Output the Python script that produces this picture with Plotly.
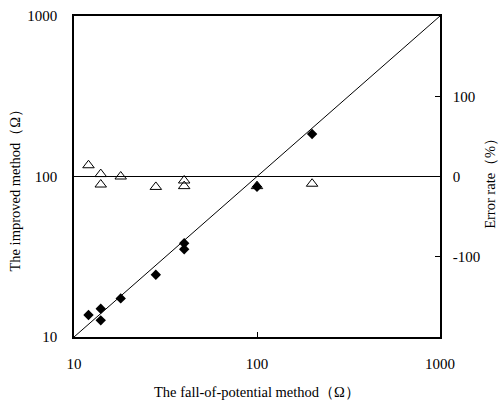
import plotly.graph_objects as go

# Data
fall_of_potential = [12, 14, 14, 18, 28, 40, 40, 100, 200]
improved_method = [13.7, 15, 12.7, 17.4, 24.4, 38.4, 35.2, 86.3, 184]
error_x = [12, 14, 14, 18, 28, 40, 40, 100, 200]
error_rate = [14, 3, -10, 0, -13, -5, -12, -12, -9]
ref_line = [10, 1000]

x_ticks = [10, 100, 1000]
y_ticks = [10, 100, 1000]
y2_ticks = [-100, 0, 100]

x_title = "The fall-of-potential method（Ω）"
y_title = "The improved method（Ω）"
y2_title = "Error rate（%）"

FONT = "Liberation Serif"

fig = go.Figure()

fig.add_trace(go.Scatter(
    x=ref_line, y=ref_line, mode="lines",
    line=dict(color="black", width=1), showlegend=False, hoverinfo="skip",
))

fig.add_trace(go.Scatter(
    x=error_x, y=error_rate, mode="markers", yaxis="y2",
    marker=dict(symbol="triangle-up-open", size=10, color="black",
                line=dict(color="black", width=1)),
    showlegend=False,
))

fig.add_trace(go.Scatter(
    x=fall_of_potential, y=improved_method, mode="markers",
    marker=dict(symbol="diamond", size=8, color="black"),
    showlegend=False,
))

common = dict(ticks="inside", ticklen=5, tickcolor="black", tickwidth=1,
              showline=True, linecolor="black", linewidth=1.5,
              showgrid=False, automargin=False, tickfont=dict(size=15))

fig.update_layout(
    width=500, height=400,
    margin=dict(l=74, r=60, t=16, b=63, autoexpand=False),
    paper_bgcolor="white", plot_bgcolor="white",
    font=dict(family=FONT, size=15, color="black"),
    xaxis=dict(
        type="log", range=[1, 3],
        tickvals=x_ticks, ticktext=[str(v) for v in x_ticks],
        mirror=True, zeroline=False, ticklabelstandoff=12, **common,
    ),
    yaxis=dict(
        type="log", range=[1, 3],
        tickvals=y_ticks, ticktext=[str(v) for v in y_ticks],
        zeroline=False, ticklabelstandoff=12, **common,
    ),
    yaxis2=dict(
        overlaying="y", side="right", range=[-200, 200],
        tickvals=y2_ticks, ticktext=[str(v) for v in y2_ticks],
        zeroline=True, zerolinecolor="black", zerolinewidth=1.2,
        ticklabelstandoff=8, **common,
    ),
    annotations=[
        dict(text=x_title, xref="paper", yref="paper", x=0.5, y=-0.17,
             xanchor="center", yanchor="middle", showarrow=False,
             font=dict(size=14.5)),
        dict(text=y_title, xref="paper", yref="paper", x=-0.16, y=0.47,
             xanchor="center", yanchor="middle", showarrow=False,
             textangle=-90, font=dict(size=14.5)),
        dict(text=y2_title, xref="paper", yref="paper", x=1.137, y=0.49,
             xanchor="center", yanchor="middle", showarrow=False,
             textangle=-90, font=dict(size=14.5)),
    ],
)

fig.write_html(
    "out.html",
    config={"displayModeBar": False},
    post_script="document.body.style.margin='0';document.body.style.padding='0';",
)
